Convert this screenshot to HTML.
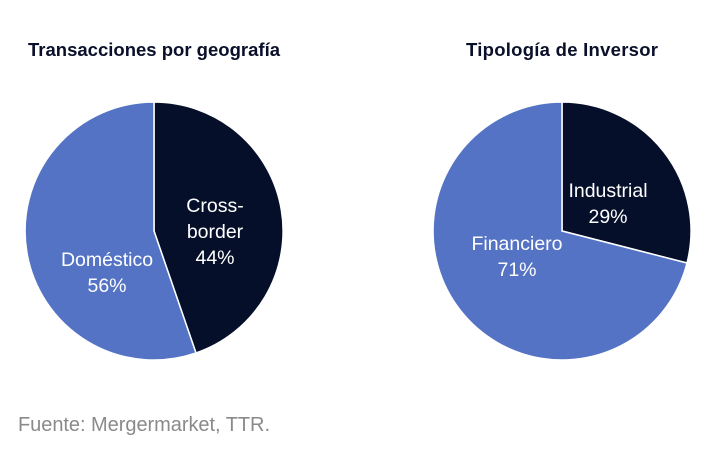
<!DOCTYPE html>
<html><head><meta charset="utf-8"><style>
html,body{margin:0;padding:0;background:#fff;}
svg{display:block;font-family:"Liberation Sans",sans-serif;}
</style></head><body>
<svg width="718" height="473" viewBox="0 0 718 473" xmlns="http://www.w3.org/2000/svg">
<rect width="718" height="473" fill="#fff"/>
<text x="154" y="56" text-anchor="middle" font-size="18.5" font-weight="bold" fill="#0a0f2a" textLength="252">Transacciones por geografía</text>
<text x="562" y="56" text-anchor="middle" font-size="18.5" font-weight="bold" fill="#0a0f2a" textLength="192">Tipología de Inversor</text>
<g stroke="#fff" stroke-width="1.5">
<path d="M154,231 L154,102 A129,129 0 0 1 196,353 Z" fill="#050f2a"/>
<path d="M154,231 L196,353 A129,129 0 1 1 154,102 Z" fill="#5473c4"/>
<path d="M562,231 L562,102 A129,129 0 0 1 687,263 Z" fill="#050f2a"/>
<path d="M562,231 L687,263 A129,129 0 1 1 562,102 Z" fill="#5473c4"/>
</g>
<g font-size="19.5" fill="#fff" text-anchor="middle">
<text x="215" y="212">Cross-</text>
<text x="215" y="238">border</text>
<text x="215" y="264">44%</text>
<text x="107" y="266">Doméstico</text>
<text x="107" y="292">56%</text>
<text x="608" y="197">Industrial</text>
<text x="608" y="223">29%</text>
<text x="517" y="250">Financiero</text>
<text x="517" y="276">71%</text>
</g>
<text x="18" y="431" font-size="20" fill="#8a8a8a" textLength="252">Fuente: Mergermarket, TTR.</text>
</svg>
</body></html>
